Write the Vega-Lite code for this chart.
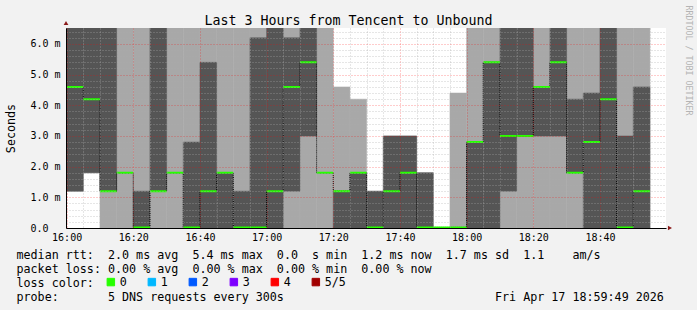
{
  "$schema": "https://vega.github.io/schema/vega-lite/v6.json",
  "width": 600,
  "height": 200,
  "autosize": {"type": "none"},
  "padding": {"left": 66, "top": 28, "right": 31, "bottom": 82},
  "background": "#f2f2f2",
  "config": {"view": {"fill": "#ffffff", "stroke": null}, "font": "DejaVu Sans Mono"},
  "data": {"values": [
    {"t": "2026-04-17T16:00:00", "t_end": "2026-04-17T16:05:00", "min": 1.2, "max": 6.6, "q1": 1.2, "q3": 6.6, "median": 4.6, "loss": "0"},
    {"t": "2026-04-17T16:05:00", "t_end": "2026-04-17T16:10:00", "min": 1.8, "max": 6.6, "q1": 1.8, "q3": 6.6, "median": 4.2, "loss": "0"},
    {"t": "2026-04-17T16:10:00", "t_end": "2026-04-17T16:15:00", "min": 0, "max": 6.6, "q1": 1.2, "q3": 6.6, "median": 1.2, "loss": "0"},
    {"t": "2026-04-17T16:15:00", "t_end": "2026-04-17T16:20:00", "min": 0, "max": 6.6, "q1": 1.8, "q3": 1.8, "median": 1.8, "loss": "0"},
    {"t": "2026-04-17T16:20:00", "t_end": "2026-04-17T16:25:00", "min": 0, "max": 6.6, "q1": 0, "q3": 1.2, "median": 0.02, "loss": "0"},
    {"t": "2026-04-17T16:25:00", "t_end": "2026-04-17T16:30:00", "min": 0, "max": 6.6, "q1": 1.2, "q3": 6.6, "median": 1.2, "loss": "0"},
    {"t": "2026-04-17T16:30:00", "t_end": "2026-04-17T16:35:00", "min": 0, "max": 6.6, "q1": 1.8, "q3": 1.8, "median": 1.8, "loss": "0"},
    {"t": "2026-04-17T16:35:00", "t_end": "2026-04-17T16:40:00", "min": 0, "max": 6.6, "q1": 0, "q3": 2.8, "median": 0.02, "loss": "0"},
    {"t": "2026-04-17T16:40:00", "t_end": "2026-04-17T16:45:00", "min": 0, "max": 6.6, "q1": 0, "q3": 5.4, "median": 1.2, "loss": "0"},
    {"t": "2026-04-17T16:45:00", "t_end": "2026-04-17T16:50:00", "min": 0, "max": 6.6, "q1": 0, "q3": 1.8, "median": 1.8, "loss": "0"},
    {"t": "2026-04-17T16:50:00", "t_end": "2026-04-17T16:55:00", "min": 0, "max": 6.6, "q1": 0, "q3": 1.2, "median": 0.02, "loss": "0"},
    {"t": "2026-04-17T16:55:00", "t_end": "2026-04-17T17:00:00", "min": 0, "max": 6.6, "q1": 0, "q3": 6.2, "median": 0.02, "loss": "0"},
    {"t": "2026-04-17T17:00:00", "t_end": "2026-04-17T17:05:00", "min": 0, "max": 6.6, "q1": 0, "q3": 6.6, "median": 1.2, "loss": "0"},
    {"t": "2026-04-17T17:05:00", "t_end": "2026-04-17T17:10:00", "min": 0, "max": 6.6, "q1": 1.2, "q3": 6.2, "median": 4.6, "loss": "0"},
    {"t": "2026-04-17T17:10:00", "t_end": "2026-04-17T17:15:00", "min": 0, "max": 6.6, "q1": 3.0, "q3": 6.6, "median": 5.4, "loss": "0"},
    {"t": "2026-04-17T17:15:00", "t_end": "2026-04-17T17:20:00", "min": 0, "max": 6.6, "q1": 1.8, "q3": 1.8, "median": 1.8, "loss": "0"},
    {"t": "2026-04-17T17:20:00", "t_end": "2026-04-17T17:25:00", "min": 0, "max": 4.6, "q1": 0, "q3": 1.2, "median": 1.2, "loss": "0"},
    {"t": "2026-04-17T17:25:00", "t_end": "2026-04-17T17:30:00", "min": 0, "max": 4.2, "q1": 0, "q3": 1.8, "median": 1.8, "loss": "0"},
    {"t": "2026-04-17T17:30:00", "t_end": "2026-04-17T17:35:00", "min": 0, "max": 1.2, "q1": 0, "q3": 1.2, "median": 0.02, "loss": "0"},
    {"t": "2026-04-17T17:35:00", "t_end": "2026-04-17T17:40:00", "min": 0, "max": 3.0, "q1": 0, "q3": 3.0, "median": 1.2, "loss": "0"},
    {"t": "2026-04-17T17:40:00", "t_end": "2026-04-17T17:45:00", "min": 0, "max": 3.0, "q1": 0, "q3": 3.0, "median": 1.8, "loss": "0"},
    {"t": "2026-04-17T17:45:00", "t_end": "2026-04-17T17:50:00", "min": 0, "max": 1.8, "q1": 0, "q3": 1.8, "median": 0.02, "loss": "0"},
    {"t": "2026-04-17T17:50:00", "t_end": "2026-04-17T17:55:00", "min": 0, "max": 0, "q1": 0, "q3": 0, "median": 0.02, "loss": "0"},
    {"t": "2026-04-17T17:55:00", "t_end": "2026-04-17T18:00:00", "min": 0, "max": 4.4, "q1": 0, "q3": 0, "median": 0.02, "loss": "0"},
    {"t": "2026-04-17T18:00:00", "t_end": "2026-04-17T18:05:00", "min": 0, "max": 6.6, "q1": 0, "q3": 2.8, "median": 2.8, "loss": "0"},
    {"t": "2026-04-17T18:05:00", "t_end": "2026-04-17T18:10:00", "min": 0, "max": 6.6, "q1": 0, "q3": 5.4, "median": 5.4, "loss": "0"},
    {"t": "2026-04-17T18:10:00", "t_end": "2026-04-17T18:15:00", "min": 0, "max": 6.6, "q1": 1.2, "q3": 6.6, "median": 3.0, "loss": "0"},
    {"t": "2026-04-17T18:15:00", "t_end": "2026-04-17T18:20:00", "min": 0, "max": 6.6, "q1": 3.0, "q3": 6.6, "median": 3.0, "loss": "0"},
    {"t": "2026-04-17T18:20:00", "t_end": "2026-04-17T18:25:00", "min": 0, "max": 6.6, "q1": 3.0, "q3": 4.6, "median": 4.6, "loss": "0"},
    {"t": "2026-04-17T18:25:00", "t_end": "2026-04-17T18:30:00", "min": 0, "max": 6.6, "q1": 3.0, "q3": 6.6, "median": 5.4, "loss": "0"},
    {"t": "2026-04-17T18:30:00", "t_end": "2026-04-17T18:35:00", "min": 0, "max": 6.6, "q1": 1.8, "q3": 4.2, "median": 1.8, "loss": "0"},
    {"t": "2026-04-17T18:35:00", "t_end": "2026-04-17T18:40:00", "min": 0, "max": 6.6, "q1": 0, "q3": 4.4, "median": 2.8, "loss": "0"},
    {"t": "2026-04-17T18:40:00", "t_end": "2026-04-17T18:45:00", "min": 0, "max": 6.6, "q1": 0, "q3": 6.6, "median": 4.2, "loss": "0"},
    {"t": "2026-04-17T18:45:00", "t_end": "2026-04-17T18:50:00", "min": 0, "max": 6.6, "q1": 0, "q3": 3.0, "median": 0.02, "loss": "0"},
    {"t": "2026-04-17T18:50:00", "t_end": "2026-04-17T18:55:00", "min": 0, "max": 6.6, "q1": 0, "q3": 4.6, "median": 1.2, "loss": "0"}
  ]},
  "resolve": {"axis": {"x": "independent", "y": "independent"}},
  "layer": [
    {
      "mark": {"type": "rect", "color": "#a8a8a8", "stroke": "#a8a8a8", "strokeWidth": 0.5, "clip": true},
      "encoding": {
        "x": {
          "field": "t", "type": "temporal",
          "scale": {"domain": [{"year": 2026, "month": 4, "date": 17, "hours": 15, "minutes": 59, "seconds": 49}, {"year": 2026, "month": 4, "date": 17, "hours": 18, "minutes": 59, "seconds": 49}]},
          "axis": {
            "orient": "bottom",
            "zindex": 1,
            "values": [
              {"year": 2026, "month": 4, "date": 17, "hours": 16, "minutes": 0}, {"year": 2026, "month": 4, "date": 17, "hours": 16, "minutes": 5},
              {"year": 2026, "month": 4, "date": 17, "hours": 16, "minutes": 10}, {"year": 2026, "month": 4, "date": 17, "hours": 16, "minutes": 15},
              {"year": 2026, "month": 4, "date": 17, "hours": 16, "minutes": 20}, {"year": 2026, "month": 4, "date": 17, "hours": 16, "minutes": 25},
              {"year": 2026, "month": 4, "date": 17, "hours": 16, "minutes": 30}, {"year": 2026, "month": 4, "date": 17, "hours": 16, "minutes": 35},
              {"year": 2026, "month": 4, "date": 17, "hours": 16, "minutes": 40}, {"year": 2026, "month": 4, "date": 17, "hours": 16, "minutes": 45},
              {"year": 2026, "month": 4, "date": 17, "hours": 16, "minutes": 50}, {"year": 2026, "month": 4, "date": 17, "hours": 16, "minutes": 55},
              {"year": 2026, "month": 4, "date": 17, "hours": 17, "minutes": 0}, {"year": 2026, "month": 4, "date": 17, "hours": 17, "minutes": 5},
              {"year": 2026, "month": 4, "date": 17, "hours": 17, "minutes": 10}, {"year": 2026, "month": 4, "date": 17, "hours": 17, "minutes": 15},
              {"year": 2026, "month": 4, "date": 17, "hours": 17, "minutes": 20}, {"year": 2026, "month": 4, "date": 17, "hours": 17, "minutes": 25},
              {"year": 2026, "month": 4, "date": 17, "hours": 17, "minutes": 30}, {"year": 2026, "month": 4, "date": 17, "hours": 17, "minutes": 35},
              {"year": 2026, "month": 4, "date": 17, "hours": 17, "minutes": 40}, {"year": 2026, "month": 4, "date": 17, "hours": 17, "minutes": 45},
              {"year": 2026, "month": 4, "date": 17, "hours": 17, "minutes": 50}, {"year": 2026, "month": 4, "date": 17, "hours": 17, "minutes": 55},
              {"year": 2026, "month": 4, "date": 17, "hours": 18, "minutes": 0}, {"year": 2026, "month": 4, "date": 17, "hours": 18, "minutes": 5},
              {"year": 2026, "month": 4, "date": 17, "hours": 18, "minutes": 10}, {"year": 2026, "month": 4, "date": 17, "hours": 18, "minutes": 15},
              {"year": 2026, "month": 4, "date": 17, "hours": 18, "minutes": 20}, {"year": 2026, "month": 4, "date": 17, "hours": 18, "minutes": 25},
              {"year": 2026, "month": 4, "date": 17, "hours": 18, "minutes": 30}, {"year": 2026, "month": 4, "date": 17, "hours": 18, "minutes": 35},
              {"year": 2026, "month": 4, "date": 17, "hours": 18, "minutes": 40}, {"year": 2026, "month": 4, "date": 17, "hours": 18, "minutes": 45},
              {"year": 2026, "month": 4, "date": 17, "hours": 18, "minutes": 50}, {"year": 2026, "month": 4, "date": 17, "hours": 18, "minutes": 55}
            ],
            "labelExpr": "minutes(datum.value) % 20 === 0 ? timeFormat(datum.value, '%H:%M') : ''",
            "labelFont": "DejaVu Sans Mono", "labelFontSize": 10, "labelColor": "#000000",
            "labelPadding": 4.5, "labelFlush": false, "labelOverlap": false,
            "ticks": false,
            "domainColor": "#000000", "domainWidth": 1,
            "grid": true,
            "gridColor": {"condition": {"test": "minutes(datum.value) % 20 === 0", "value": "rgba(255,0,0,0.4)"}, "value": "rgba(170,170,170,0.6)"},
            "gridDash": [1, 2],
            "gridWidth": 1,
            "title": [
              "median rtt:\u00a0\u00a02.0\u00a0ms\u00a0avg\u00a0\u00a05.4\u00a0ms\u00a0max\u00a0\u00a00.0\u00a0\u00a0s\u00a0min\u00a0\u00a01.2\u00a0ms\u00a0now\u00a0\u00a01.7\u00a0ms\u00a0sd\u00a0\u00a01.1\u00a0\u00a0\u00a0\u00a0am/s",
              "packet\u00a0loss:\u00a00.00\u00a0%\u00a0avg\u00a0\u00a00.00\u00a0%\u00a0max\u00a0\u00a00.00\u00a0%\u00a0min\u00a0\u00a00.00\u00a0%\u00a0now",
              "loss\u00a0color:",
              "probe:\u00a0\u00a0\u00a0\u00a0\u00a0\u00a0\u00a05\u00a0DNS\u00a0requests\u00a0every\u00a0300s\u00a0\u00a0\u00a0\u00a0\u00a0\u00a0\u00a0\u00a0\u00a0\u00a0\u00a0\u00a0\u00a0\u00a0\u00a0\u00a0\u00a0\u00a0\u00a0\u00a0\u00a0\u00a0\u00a0\u00a0\u00a0\u00a0\u00a0\u00a0\u00a0\u00a0Fri\u00a0Apr\u00a017\u00a018:59:49\u00a02026"
            ],
            "titleFont": "DejaVu Sans Mono", "titleFontSize": 11.7, "titleFontWeight": "normal", "titleColor": "#000000",
            "titleAlign": "left", "titleBaseline": "alphabetic", "titleLineHeight": 14,
            "titleX": -50, "titleY": 30.3
          }
        },
        "x2": {"field": "t_end"},
        "y": {
          "field": "min", "type": "quantitative",
          "scale": {"domain": [0, 6.52], "nice": false, "zero": true},
          "axis": {
            "orient": "left",
            "zindex": 1,
            "values": [0, 0.2, 0.4, 0.6, 0.8, 1, 1.2, 1.4, 1.6, 1.8, 2, 2.2, 2.4, 2.6, 2.8, 3, 3.2, 3.4, 3.6, 3.8, 4, 4.2, 4.4, 4.6, 4.8, 5, 5.2, 5.4, 5.6, 5.8, 6, 6.2, 6.4],
            "labelExpr": "abs(datum.value - round(datum.value)) < 0.001 ? (datum.value == 0 ? '0.0' : format(datum.value, '.1f') + ' m') : ''",
            "labelFont": "DejaVu Sans Mono", "labelFontSize": 10, "labelColor": "#000000",
            "labelAlign": "left", "labelBaseline": "middle", "labelPadding": 36,
            "labelOverlap": false, "labelFlush": false,
            "ticks": false,
            "domainColor": "#000000", "domainWidth": 1,
            "grid": true,
            "gridColor": {"condition": {"test": "abs(datum.value - round(datum.value)) < 0.001", "value": "rgba(255,0,0,0.4)"}, "value": "rgba(170,170,170,0.6)"},
            "gridDash": [1, 2],
            "gridWidth": 1,
            "title": "Seconds",
            "titleFont": "DejaVu Sans Mono", "titleFontSize": 11.7, "titleFontWeight": "normal", "titleColor": "#000000",
            "titleAngle": 270, "titleAlign": "center", "titleBaseline": "middle",
            "titleX": -55.5, "titleY": 100
          }
        },
        "y2": {"field": "max"}
      }
    },
    {
      "mark": {"type": "rect", "color": "#555555", "stroke": "#555555", "strokeWidth": 0.5, "clip": true},
      "encoding": {
        "x": {"field": "t", "type": "temporal", "scale": {"domain": [{"year": 2026, "month": 4, "date": 17, "hours": 15, "minutes": 59, "seconds": 49}, {"year": 2026, "month": 4, "date": 17, "hours": 18, "minutes": 59, "seconds": 49}]}, "axis": null},
        "x2": {"field": "t_end"},
        "y": {"field": "q1", "type": "quantitative", "scale": {"domain": [0, 6.52], "nice": false, "zero": true}, "axis": null},
        "y2": {"field": "q3"}
      }
    },
    {
      "mark": {"type": "line", "interpolate": "step-after", "color": "#000000", "strokeWidth": 1, "strokeDash": [1, 1]},
      "encoding": {
        "x": {"field": "t", "type": "temporal", "scale": {"domain": [{"year": 2026, "month": 4, "date": 17, "hours": 15, "minutes": 59, "seconds": 49}, {"year": 2026, "month": 4, "date": 17, "hours": 18, "minutes": 59, "seconds": 49}]}, "axis": null},
        "y": {"field": "median", "type": "quantitative", "scale": {"domain": [0, 6.52], "nice": false, "zero": true}, "axis": null}
      }
    },
    {
      "mark": {"type": "rect", "strokeWidth": 2},
      "encoding": {
        "x": {
          "field": "t", "type": "temporal",
          "scale": {"domain": [{"year": 2026, "month": 4, "date": 17, "hours": 15, "minutes": 59, "seconds": 49}, {"year": 2026, "month": 4, "date": 17, "hours": 18, "minutes": 59, "seconds": 49}]},
          "axis": {
            "orient": "top", "labels": false, "ticks": false, "domain": false, "grid": false,
            "title": "Last 3 Hours from Tencent to Unbound",
            "titleFont": "DejaVu Sans Mono", "titleFontSize": 13.3, "titleFontWeight": "normal", "titleColor": "#000000",
            "titleAlign": "center", "titleBaseline": "alphabetic",
            "titleX": 282, "titleY": -4
          }
        },
        "x2": {"field": "t_end"},
        "y": {
          "field": "median", "type": "quantitative",
          "scale": {"domain": [0, 6.52], "nice": false, "zero": true},
          "axis": {
            "orient": "right", "labels": false, "ticks": false, "domain": false, "grid": false,
            "title": "RRDTOOL / TOBI OETIKER",
            "titleFont": "DejaVu Sans Mono", "titleFontSize": 8.3, "titleFontWeight": "normal", "titleColor": "#b4b4b4",
            "titleAngle": 90, "titleAlign": "center", "titleBaseline": "middle",
            "titleX": 21.5, "titleY": 32
          }
        },
        "y2": {"field": "median"},
        "stroke": {
          "field": "loss", "type": "nominal",
          "scale": {"domain": ["0", "1", "2", "3", "4", "5/5"], "range": ["#26ff00", "#00b8ff", "#0059ff", "#7e00ff", "#ff0000", "#a10000"]},
          "legend": null
        },
        "color": {
          "field": "loss", "type": "nominal",
          "scale": {"domain": ["0", "1", "2", "3", "4", "5/5"], "range": ["#26ff00", "#00b8ff", "#0059ff", "#7e00ff", "#ff0000", "#a10000"]},
          "legend": {
            "orient": "none", "legendX": 39, "legendY": 248, "direction": "horizontal", "title": null,
            "symbolType": "square", "symbolSize": 56, "symbolStrokeWidth": 1, "symbolStrokeColor": "#000000", "symbolOpacity": 1,
            "labelFont": "DejaVu Sans Mono", "labelFontSize": 11.7, "labelColor": "#000000", "labelOffset": 3,
            "columnPadding": 19, "padding": 0
          }
        }
      }
    },
    {
      "data": {"values": [{}]},
      "mark": {"type": "point", "shape": "triangle-up", "filled": true, "color": "#8b1a1a", "size": 22, "opacity": 1},
      "encoding": {
        "x": {"datum": {"year": 2026, "month": 4, "date": 17, "hours": 15, "minutes": 59, "seconds": 49}, "type": "temporal", "scale": {"domain": [{"year": 2026, "month": 4, "date": 17, "hours": 15, "minutes": 59, "seconds": 49}, {"year": 2026, "month": 4, "date": 17, "hours": 18, "minutes": 59, "seconds": 49}]}, "axis": null},
        "y": {"datum": 6.68, "type": "quantitative", "scale": {"domain": [0, 6.52], "nice": false, "zero": true}, "axis": null}
      }
    },
    {
      "data": {"values": [{}]},
      "mark": {"type": "point", "shape": "triangle-right", "filled": true, "color": "#8b1a1a", "size": 22, "opacity": 1},
      "encoding": {
        "x": {"datum": {"year": 2026, "month": 4, "date": 17, "hours": 19, "minutes": 1, "seconds": 0}, "type": "temporal", "scale": {"domain": [{"year": 2026, "month": 4, "date": 17, "hours": 15, "minutes": 59, "seconds": 49}, {"year": 2026, "month": 4, "date": 17, "hours": 18, "minutes": 59, "seconds": 49}]}, "axis": null},
        "y": {"datum": 0, "type": "quantitative", "scale": {"domain": [0, 6.52], "nice": false, "zero": true}, "axis": null}
      }
    }
  ]
}
